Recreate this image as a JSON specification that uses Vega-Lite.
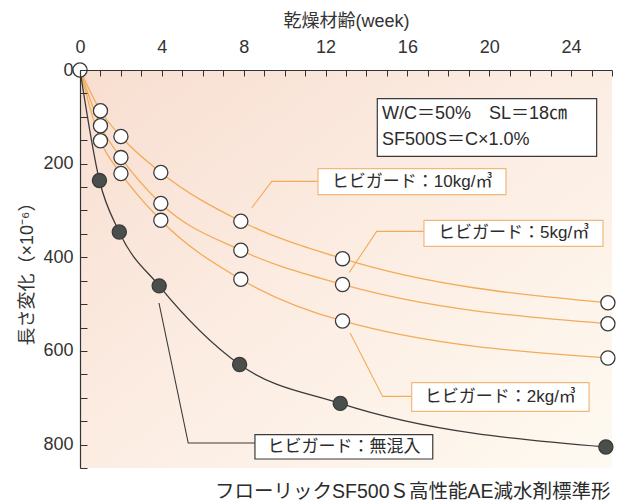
{
  "$schema": "https://vega.github.io/schema/vega-lite/v6.json",
  "width": 532,
  "height": 398,
  "autosize": {"type": "none"},
  "padding": {"left": 80, "top": 70, "right": 6, "bottom": 36},
  "background": "white",
  "config": {
    "view": {"stroke": null},
    "font": "Liberation Sans, Noto Sans CJK JP",
    "axis": {
      "grid": false,
      "tickColor": "#333", "tickWidth": 1,
      "domainColor": "#333", "domainWidth": 1.2,
      "labelFontSize": 18, "labelColor": "#333",
      "labelFont": "Liberation Sans", "labelFlush": false, "labelOverlap": false,
      "titleFontSize": 18, "titleFontWeight": "normal", "titleColor": "#333",
      "titleFont": "Liberation Sans, Noto Sans CJK JP"
    },
    "axisX": {"tickSize": -6, "labelPadding": 20, "titlePadding": 8},
    "axisY": {"tickSize": -7, "labelPadding": 14, "titlePadding": 6}
  },
  "title": {
    "text": "フローリックSF500Ｓ高性能AE減水剤標準形",
    "orient": "bottom", "anchor": "end", "dx": -7, "offset": 6,
    "fontSize": 19.5, "fontWeight": "normal", "color": "#2b2b2b",
    "font": "Liberation Sans, Noto Sans CJK JP"
  },
  "datasets": {
    "curves": [
      {"series": "10", "week": 0, "strain": 0},
      {"series": "10", "week": 1, "strain": 87},
      {"series": "10", "week": 2, "strain": 142},
      {"series": "10", "week": 3.95, "strain": 219},
      {"series": "10", "week": 7.86, "strain": 323},
      {"series": "10", "week": 12.83, "strain": 403},
      {"series": "10", "week": 25.8, "strain": 497},
      {"series": "5", "week": 0, "strain": 0},
      {"series": "5", "week": 1, "strain": 119},
      {"series": "5", "week": 2, "strain": 187},
      {"series": "5", "week": 3.95, "strain": 285},
      {"series": "5", "week": 7.86, "strain": 385},
      {"series": "5", "week": 12.83, "strain": 458},
      {"series": "5", "week": 25.8, "strain": 542},
      {"series": "2", "week": 0, "strain": 0},
      {"series": "2", "week": 1, "strain": 151},
      {"series": "2", "week": 2, "strain": 221},
      {"series": "2", "week": 3.95, "strain": 321},
      {"series": "2", "week": 7.86, "strain": 447},
      {"series": "2", "week": 12.83, "strain": 536},
      {"series": "2", "week": 25.8, "strain": 615},
      {"series": "none", "week": 0, "strain": 0},
      {"series": "none", "week": 0.95, "strain": 236},
      {"series": "none", "week": 1.92, "strain": 346},
      {"series": "none", "week": 3.87, "strain": 461},
      {"series": "none", "week": 7.8, "strain": 629},
      {"series": "none", "week": 12.72, "strain": 712},
      {"series": "none", "week": 25.7, "strain": 805}
    ],
    "leaders": [
      {"grp": "10", "seq": 1, "week": 8.39, "strain": 294.7},
      {"grp": "10", "seq": 2, "week": 9.37, "strain": 237.9},
      {"grp": "10", "seq": 3, "week": 11.63, "strain": 237.9},
      {"grp": "5", "seq": 1, "week": 13.16, "strain": 432.3},
      {"grp": "5", "seq": 2, "week": 14.5, "strain": 344.7},
      {"grp": "5", "seq": 3, "week": 16.81, "strain": 344.7},
      {"grp": "2", "seq": 1, "week": 13.2, "strain": 561.7},
      {"grp": "2", "seq": 2, "week": 14.79, "strain": 697.1},
      {"grp": "2", "seq": 3, "week": 16.21, "strain": 697.1},
      {"grp": "none", "seq": 1, "week": 3.86, "strain": 497.6},
      {"grp": "none", "seq": 2, "week": 5.29, "strain": 796.6},
      {"grp": "none", "seq": 3, "week": 8.55, "strain": 796.6}
    ],
    "boxes": [
      {"kind": "orange", "week": 11.63, "week2": 20.82, "strain": 210.8, "strain2": 266.3},
      {"kind": "orange", "week": 16.81, "week2": 25.56, "strain": 321.2, "strain2": 376.7},
      {"kind": "orange", "week": 16.21, "week2": 24.88, "strain": 667.8, "strain2": 729.1},
      {"kind": "black", "week": 8.55, "week2": 17.24, "strain": 778.9, "strain2": 830.8},
      {"kind": "black", "week": 14.53, "week2": 25.25, "strain": 61.3, "strain2": 184.5}
    ],
    "labels": [
      {"label": "ヒビガード：10kg/㎥", "week": 16.23, "strain": 238.5},
      {"label": "ヒビガード：5kg/㎥", "week": 21.19, "strain": 349},
      {"label": "ヒビガード：2kg/㎥", "week": 20.54, "strain": 698.4},
      {"label": "ヒビガード：無混入", "week": 12.9, "strain": 805}
    ],
    "info": [
      {"label": "W/C＝50%　SL＝18㎝", "week": 14.76, "strain": 93.3},
      {"label": "SF500S＝C×1.0%", "week": 14.76, "strain": 148.9}
    ]
  },
  "encoding": {
    "x": {
      "field": "week", "type": "quantitative",
      "scale": {"domain": [0, 26], "nice": false, "zero": true},
      "axis": {
        "orient": "top",
        "zindex": 2,
        "title": "乾燥材齢(week)",
        "values": [0,1,2,3,4,5,6,7,8,9,10,11,12,13,14,15,16,17,18,19,20,21,22,23,24,25,26],
        "labelExpr": "datum.value % 4 === 0 ? datum.label : ''"
      }
    },
    "y": {
      "field": "strain", "type": "quantitative",
      "scale": {"domain": [0, 850], "nice": false, "reverse": true},
      "axis": {
        "zindex": 2,
        "title": "長さ変化（×10⁻⁶）",
        "values": [0,50,100,150,200,250,300,350,400,450,500,550,600,650,700,750,800,850],
        "labelExpr": "datum.value % 200 === 0 ? datum.label : ''"
      }
    }
  },
  "layer": [
    {
      "data": {"name": "boxes"},
      "mark": {
        "type": "rect",
        "fill": {
          "gradient": "linear", "x1": 0, "y1": 0, "x2": 1, "y2": 1,
          "stops": [
            {"offset": 0, "color": "#f8ded1"},
            {"offset": 0.5, "color": "#fcede3"},
            {"offset": 1, "color": "#fefaf1"}
          ]
        }
      },
      "transform": [{"filter": "datum.kind === 'black' && datum.week > 10"}],
      "encoding": {
        "x": {"datum": 0, "type": "quantitative"},
        "x2": {"datum": 26},
        "y": {"datum": 0, "type": "quantitative"},
        "y2": {"datum": 850}
      }
    },
    {
      "data": {"name": "curves"},
      "mark": {"type": "line", "interpolate": "monotone", "strokeWidth": 1.3},
      "encoding": {
        "detail": {"field": "series"},
        "stroke": {"condition": {"test": "datum.series === 'none'", "value": "#3a3a3a"}, "value": "#f4ab58"}
      }
    },
    {
      "data": {"name": "leaders"},
      "mark": {"type": "line", "strokeWidth": 1.1},
      "encoding": {
        "detail": {"field": "grp"},
        "order": {"field": "seq"},
        "stroke": {"condition": {"test": "datum.grp === 'none'", "value": "#3a3a3a"}, "value": "#f4ab58"}
      }
    },
    {
      "data": {"name": "boxes"},
      "mark": {"type": "rect", "fill": "white", "strokeWidth": 1.2},
      "encoding": {
        "x2": {"field": "week2"},
        "y2": {"field": "strain2"},
        "stroke": {"condition": {"test": "datum.kind === 'black'", "value": "#3a3a3a"}, "value": "#f2b77a"}
      }
    },
    {
      "data": {"name": "labels"},
      "mark": {"type": "text", "fontSize": 17, "align": "center", "baseline": "middle", "color": "#2b2b2b", "font": "Liberation Sans, Noto Sans CJK JP"},
      "encoding": {
        "text": {"field": "label"}
      }
    },
    {
      "data": {"name": "info"},
      "mark": {"type": "text", "fontSize": 18, "align": "left", "baseline": "middle", "color": "#2b2b2b", "font": "Liberation Sans, Noto Sans CJK JP"},
      "encoding": {
        "text": {"field": "label"}
      }
    },
    {
      "data": {"name": "curves"},
      "transform": [{"filter": "datum.week > 0 || datum.series === '10'"}],
      "mark": {"type": "circle", "size": 200, "strokeWidth": 1.3, "stroke": "#3a3a3a", "opacity": 1},
      "encoding": {
        "fill": {"condition": {"test": "datum.series === 'none'", "value": "#4a4f4c"}, "value": "white"}
      }
    }
  ]
}
